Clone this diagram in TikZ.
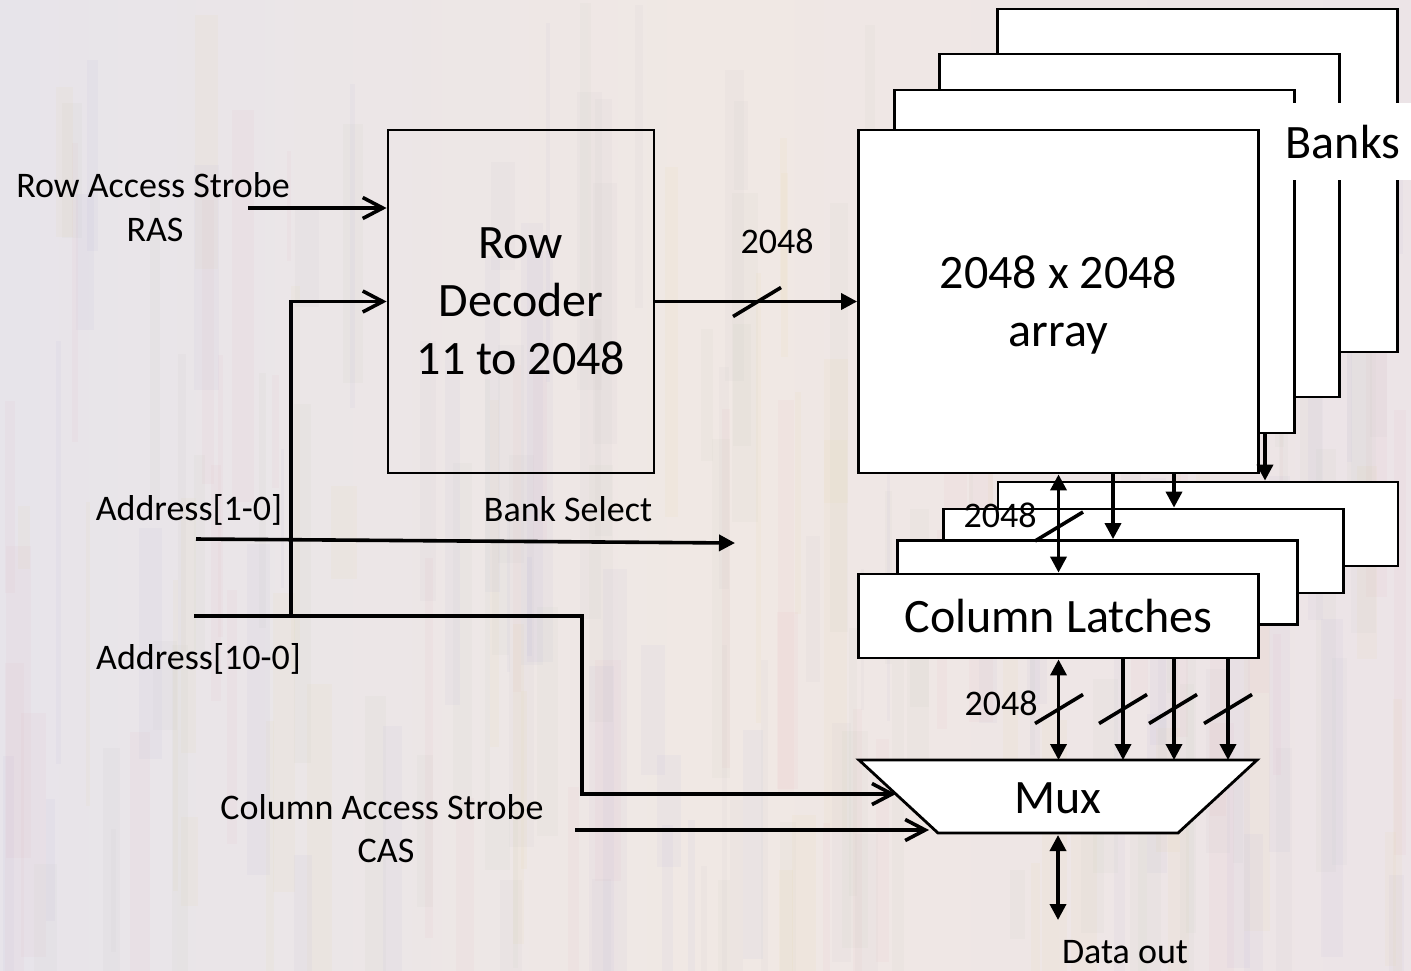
\documentclass[tikz,border=0pt]{standalone}
\usepackage{fontspec}
\setmainfont{Carlito}
\usetikzlibrary{arrows.meta,calc}
\definecolor{bgl}{HTML}{E7E4EA}
\definecolor{bgm}{HTML}{F0E8E4}
\definecolor{bgr}{HTML}{ECE4E7}
\definecolor{st1}{HTML}{E3A9B2}
\definecolor{st2}{HTML}{E4CF8E}
\definecolor{st3}{HTML}{A9A6D6}
\definecolor{st4}{HTML}{BDBABD}
\definecolor{st5}{HTML}{B9C7AE}
\newcommand\busmark[1]{\draw[wire] ($(#1)+(-24,14.5)$) -- ($(#1)+(24,-14.5)$);}
\begin{document}
\begin{tikzpicture}[x=0.5pt,y=-0.5pt,
  box/.style={draw=black, line width=1.4pt, fill=white, inner sep=0pt, minimum width=200pt},
  bankbox/.style={box, minimum height=171.5pt},
  latchbox/.style={box, minimum height=42pt},
  txtbig/.style={font=\fontsize{24}{29}\selectfont, align=center, text depth=0pt},
  txtsmall/.style={font=\fontsize{18}{22}\selectfont, inner sep=0pt, anchor=base},
  wire/.style={line width=1.8pt},
  openarrow/.style={wire, line join=miter, -{Straight Barb[length=10pt,width=10.5pt]}},
  fillarrow/.style={wire, -{Triangle[length=8pt,width=8pt]}},
  dblarrow/.style={wire, {Triangle[length=8pt,width=8pt]}-{Triangle[length=8pt,width=8pt]}},
]
\useasboundingbox (0,0) rectangle (1411,970);
% background
\shade[left color=bgl, right color=bgr, middle color=bgm] (0,0) rectangle (1411,970);
\pgfmathsetseed{12}
\foreach \k in {1,...,220}{
  \pgfmathtruncatemacro\xx{random(0,1400)}
  \pgfmathtruncatemacro\ww{random(3,26)}
  \pgfmathtruncatemacro\yy{random(0,880)}
  \pgfmathtruncatemacro\hh{random(60,450)}
  \pgfmathtruncatemacro\cc{random(1,5)}
  \fill[st\cc, opacity=0.07] (\xx,\yy) rectangle ++(\ww,\hh);
}

% row decoder
\node[box, fill=none, minimum width=133pt, minimum height=171.5pt, txtbig] (dec) at (521,301.5) {Row\\Decoder\\11 to 2048};

% banks
\node[bankbox] (bank4) at (1197.5,180.5) {};
\node[bankbox] (bank3) at (1139.5,225.5) {};
\node[bankbox] (bank2) at (1094.5,261.5) {};
\fill[white] (1260,103) rectangle (1411,180);
\node[txtbig, anchor=base] (banks) at (1343,158) {Banks};
\node[bankbox, txtbig] (arr) at (1058.5,301.5) {2048 x 2048\\array};

% column latches
\node[latchbox] (lat4) at (1198,524) {};
\node[latchbox] (lat3) at (1143.5,551) {};
\node[latchbox] (lat2) at (1097.5,582.5) {};
\node[latchbox, txtbig] (lat1) at (1058.5,616) {Column Latches};

% mux
\coordinate (mTL) at (859,760);
\coordinate (mTR) at (1257,760);
\coordinate (mBR) at (1178,833);
\coordinate (mBL) at (938,833);
\draw[line width=1.4pt, fill=white] (mTL) -- (mTR) -- (mBR) -- (mBL) -- cycle;
\node[txtbig] (mux) at (1058,798) {Mux};
\coordinate (mT) at (1058,760);
\coordinate (mB) at (1058,835);
\coordinate (muxA) at ($(mTL)!0.466!(mBL)$);
\coordinate (muxC) at (929,830);

% inputs
\coordinate (rasin) at (248,208);
\draw[openarrow] (rasin) -- (dec.west |- rasin);
\coordinate (a1) at (196,539);
\coordinate (bsel) at (735,543);
\draw[fillarrow] (a1) -- (bsel);
\coordinate (a10) at (194,616);
\coordinate (jn) at (291,616);
\coordinate (turn) at (582,616);
\draw[openarrow] (a10) -- (turn) |- (muxA);
\draw[openarrow] (jn) |- (dec.west);
\coordinate (casin) at (575,830);
\draw[openarrow] (casin) -- (muxC);

% decoder to array
\draw[fillarrow] (dec.east) -- (arr.west);
\coordinate (s1) at (757,302);
\busmark{s1}

% array to latches
\coordinate (x2) at (1113,0);
\coordinate (x3) at (1174,0);
\coordinate (x4) at (1265,0);
\draw[dblarrow] (arr.south) -- (lat1.north);
\draw[fillarrow] (arr.south -| x2) -- (lat2.north -| x2);
\draw[fillarrow] (arr.south -| x3) -- (lat3.north -| x3);
\draw[fillarrow] (bank2.south -| x4) -- (lat4.north -| x4);
\coordinate (s2) at (1059,526.5);
\busmark{s2}

% latches to mux
\coordinate (y2) at (1123,0);
\coordinate (y3) at (1174,0);
\coordinate (y4) at (1228,0);
\draw[dblarrow] (lat1.south) -- (lat1.south |- mT);
\draw[fillarrow] (lat1.south -| y2) -- (mT -| y2);
\draw[fillarrow] (lat1.south -| y3) -- (mT -| y3);
\draw[fillarrow] (lat1.south -| y4) -- (mT -| y4);
\foreach \sx in {1059,1123,1173,1228}{
  \coordinate (sm) at (\sx,709);
  \busmark{sm}
}

% data out
\coordinate (dout) at (1058,920);
\draw[dblarrow] (mB) -- (dout);

% labels
\node[txtsmall] (lras1) at (153,197) {Row Access Strobe};
\node[txtsmall] (lras2) at (155,241) {RAS};
\node[txtsmall] (la1) at (189,520) {Address[1-0]};
\node[txtsmall] (lbs) at (568,521) {Bank Select};
\node[txtsmall] (la10) at (198.5,669) {Address[10-0]};
\node[txtsmall] (lcas1) at (382,819) {Column Access Strobe};
\node[txtsmall] (lcas2) at (386,862) {CAS};
\node[txtsmall] (ldo) at (1125,963) {Data out};
\node[txtsmall] (n1) at (777,253) {2048};
\node[txtsmall] (n2) at (1000,527) {2048};
\node[txtsmall] (n3) at (1001,715) {2048};
\end{tikzpicture}
\end{document}
